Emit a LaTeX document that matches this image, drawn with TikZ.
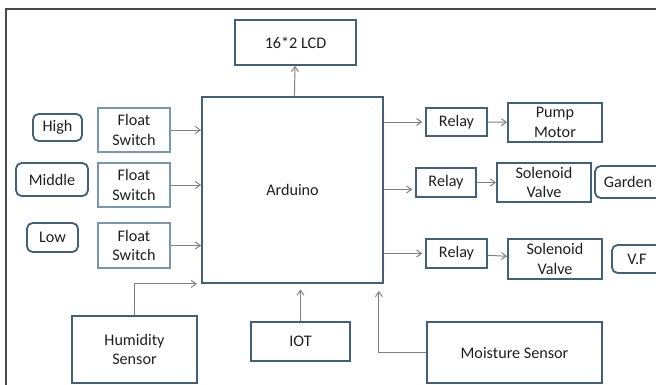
\documentclass[tikz,border=0pt]{standalone}
\usepackage{fontspec}
\setmainfont{Carlito}
\usetikzlibrary{arrows.meta,calc}
\definecolor{boxline}{HTML}{41607A}
\definecolor{fsline}{HTML}{7897B0}
\definecolor{arrline}{HTML}{808080}
\definecolor{frameline}{HTML}{4A4A4A}
\begin{document}
\begin{tikzpicture}[x=0.025cm,y=-0.025cm,>={Straight Barb[length=3.5pt,width=5pt]},
  font=\fontsize{11.5}{13.7}\selectfont,
  blk/.style={draw=boxline,line width=1.3pt,align=center,inner sep=0pt,text=black!88},
  sz/.style 2 args={minimum width=#1*0.025cm,minimum height=#2*0.025cm},
  rblk/.style={blk,rounded corners=4pt},
  fsw/.style={blk,draw=fsline},
  arr/.style={->,draw=arrline,line width=0.7pt}]
\useasboundingbox (0,0) rectangle (656,385);
\clip (0,0) rectangle (656,385);
\draw[frameline,line width=1pt] (6,390) -- (6,9) -- (660,9);
% centre block and display
\node[blk,sz={181}{186}] (ard) at (292.5,190) {Arduino};
\node[blk,sz={121}{45}] (lcd) at (295.5,42.5) {16*2 LCD};
% tank levels
\node[rblk,sz={49}{27}] (high) at (57.5,127.5) {High};
\node[rblk,sz={72}{33}] (mid) at (52,179.5) {Middle};
\node[rblk,sz={51}{29}] (low) at (52.5,237.5) {Low};
\node[fsw,sz={72}{44}] (fs1) at (134,130) {Float\\Switch};
\node[fsw,sz={72}{44}] (fs2) at (134,185) {Float\\Switch};
\node[fsw,sz={72}{45}] (fs3) at (134,245.5) {Float\\Switch};
% inputs below
\node[blk,sz={125}{67}] (hum) at (134.5,349.5) {Humidity\\Sensor};
\node[blk,sz={99}{39}] (iot) at (300.5,341.5) {IOT};
\node[blk,sz={175}{61}] (moist) at (514.5,352.5) {Moisture Sensor};
% outputs
\node[blk,sz={61}{28}] (r1) at (456.5,122) {Relay};
\node[blk,sz={94}{39}] (pump) at (555,122.5) {Pump\\Motor};
\node[blk,sz={60}{29}] (r2) at (446,182.5) {Relay};
\node[blk,sz={94}{39}] (sv1) at (544,182.5) {Solenoid\\Valve};
\node[rblk,sz={66}{32}] (garden) at (628,182) {Garden};
\node[blk,sz={61}{29}] (r3) at (456.5,253.5) {Relay};
\node[blk,sz={94}{40}] (sv2) at (555,259) {Solenoid\\Valve};
\node[rblk,sz={50}{28}] (vf) at (637,259) {V.F};
% connectors
\draw[arr] (ard) -- (lcd);
\draw[arr] (fs1) -- (fs1 -| ard.west);
\draw[arr] (fs2) -- (fs2 -| ard.west);
\draw[arr] (fs3) -- (fs3 -| ard.west);
\draw[arr,shorten >=3pt] (hum.north) |- (ard.south west);
\draw[arr,shorten >=4pt] (iot.north) -- (iot.north |- ard.south);
\draw[arr,shorten >=5pt] (moist.west) -| ($(ard.south east)+(-5,0)$);
\draw[arr,shorten >=2pt] (r1.west -| ard.east) -- (r1.west);
\draw[arr,shorten >=2pt] ($(r2.west -| ard.east)+(0,7)$) -- ($(r2.west)+(0,7)$);
\draw[arr,shorten >=2pt] (r3.west -| ard.east) -- (r3.west);
\draw[arr] (r1) -- (pump);
\draw[arr] (r2) -- (sv1);
\draw[arr] (r3) -- (sv2);
\end{tikzpicture}
\end{document}
